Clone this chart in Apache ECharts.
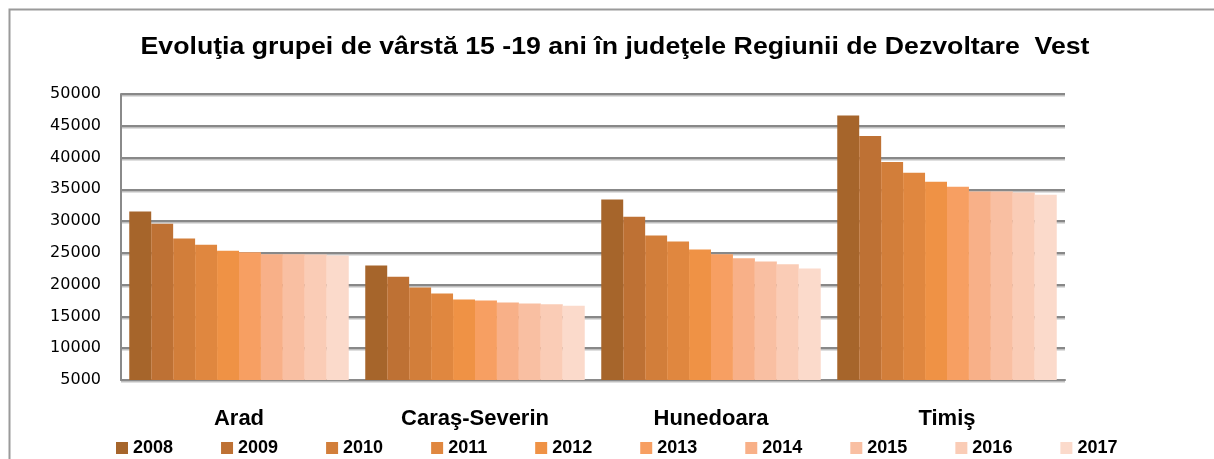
<!DOCTYPE html>
<html><head><meta charset="utf-8">
<script src="https://cdn.jsdelivr.net/npm/echarts@6/dist/echarts.min.js"></script>
<style>html,body{margin:0;padding:0;background:#fff}#c{width:1214px;height:459px}</style>
</head><body><div id="c"></div>
<script>
const titleText = 'Evoluţia grupei de vârstă 15 -19 ani în judeţele Regiunii de Dezvoltare  Vest';
const categories = ['Arad', 'Caraş-Severin', 'Hunedoara', 'Timiş'];
const years = ['2008','2009','2010','2011','2012','2013','2014','2015','2016','2017'];
const arad      = [31500, 29600, 27250, 26300, 25350, 25100, 24800, 24800, 24750, 24600];
const carasSev  = [23000, 21250, 19550, 18600, 17650, 17500, 17200, 17050, 16900, 16700];
const hunedoara = [33400, 30700, 27750, 26800, 25550, 24800, 24150, 23650, 23200, 22550];
const timis     = [46600, 43400, 39300, 37600, 36200, 35400, 34650, 34650, 34500, 34150];
const yTicks = {min: 5000, max: 50000, interval: 5000};
const colors = ['#A6652B','#BE7134','#D27E3A','#E0873F','#EF9245','#F79F62','#F8B088','#F9BFA2','#FACCB6','#FBDACB'];

const byCounty = [arad, carasSev, hunedoara, timis];
const series = years.map((y, i) => ({
  name: y,
  type: 'bar',
  data: byCounty.map(c => c[i]),
  itemStyle: {color: colors[i]},
  barGap: '0%',
  barCategoryGap: '7%',
  emphasis: {disabled: true}
}));

const chart = echarts.init(document.getElementById('c'), null, {renderer: 'canvas'});
chart.setOption({
  animation: false,
  color: colors,
  graphic: [{
    type: 'rect', left: 7, top: 7, shape: {width: 1400, height: 600},
    style: {fill: 'none', stroke: '#9a9a9a', lineWidth: 2}, silent: true
  }, {
    type: 'text', x: 615, y: 48, scaleX: 1.16, silent: true,
    style: {text: titleText, align: 'center', verticalAlign: 'middle',
      font: 'bold 23px "Liberation Sans"', fill: '#000'}
  }],
  legend: {
    data: years, left: 116, top: 439, padding: 0, itemWidth: 12, itemHeight: 12, itemGap: 48,
    icon: 'rect',
    textStyle: {fontFamily: 'Liberation Sans', fontWeight: 'bold', fontSize: 18, lineHeight: 16, color: '#000'},
    selectedMode: false
  },
  grid: {left: 121, right: 149, top: 94, bottom: 79, containLabel: false},
  xAxis: {
    type: 'category', data: categories,
    axisLine: {show: true, lineStyle: {color: '#8a8a8a', width: 2}},
    axisTick: {show: false},
    axisLabel: {fontFamily: 'Liberation Sans', fontWeight: 'bold', fontSize: 22, color: '#000', margin: 28}
  },
  yAxis: {
    type: 'value', min: yTicks.min, max: yTicks.max, interval: yTicks.interval,
    axisLine: {show: true, lineStyle: {color: '#8a8a8a', width: 2}},
    axisTick: {show: false},
    axisLabel: {fontFamily: 'DejaVu Sans', fontSize: 16, color: '#000', margin: 20, formatter: v => String(v)},
    splitLine: {lineStyle: {color: '#888', width: 2, shadowColor: 'rgba(0,0,0,0.25)', shadowOffsetY: 1.5, shadowBlur: 0}}
  },
  series: series
});
</script></body></html>
